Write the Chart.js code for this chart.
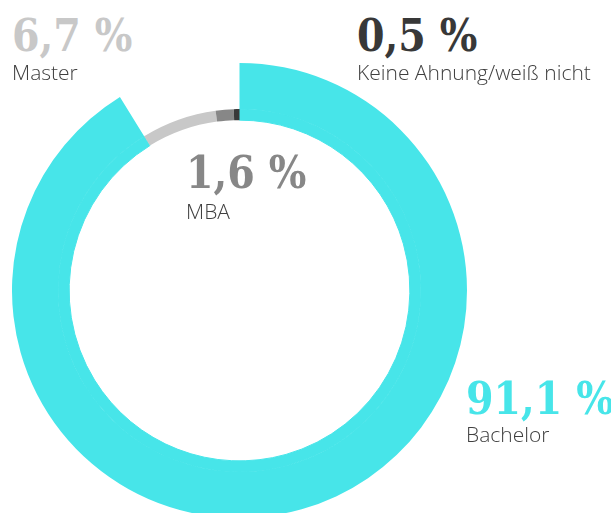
<!DOCTYPE html>
<html lang="de">
<head>
<meta charset="utf-8">
<script src="https://cdn.jsdelivr.net/npm/chart.js@4.4.1/dist/chart.umd.min.js"></script>
<style>
  html, body { margin: 0; padding: 0; width: 611px; height: 513px; overflow: hidden; background: #fff; }
  #wrap { position: absolute; left: 12px; top: 63px; width: 455px; height: 455px; }
  .val, .cat { position: absolute; white-space: nowrap; line-height: 1; }
  .val { font-family: "DejaVu Serif", serif; font-weight: bold; font-size: 44px; font-stretch: condensed; }
  .cat { font-family: "Open Sans", sans-serif; font-weight: 300; font-size: 21px; color: #404040; }
</style>
</head>
<body>
<div id="wrap"><canvas id="chart"></canvas></div>
<div id="labels"></div>
<script>
// survey answers, share in percent
const categories = ["Bachelor", "Master", "MBA", "Keine Ahnung/weiß nicht"];
const shares = [91.1, 6.7, 1.6, 0.5];

const colours = ["#47e5e9", "#c8c8c8", "#878787", "#383838"];
// label anchors: [left, value baseline, category baseline]
const labelPos = [[466, 413, 443], [12, 50, 81], [186, 187, 220], [357, 50, 81]];

const fmt = (v) => v.toFixed(1).replace(".", ",") + " %";

const ctx = document.getElementById("chart").getContext("2d");
new Chart(ctx, {
  type: "doughnut",
  data: {
    labels: categories,
    datasets: [
      {
        // thick outer band: only Bachelor is visible
        data: shares,
        backgroundColor: colours.map((c, i) => (i === 0 ? c : "rgba(0,0,0,0)")),
        borderWidth: 0,
        weight: 46,
      },
      {
        // thin inner band carries the small answers
        data: shares,
        backgroundColor: colours,
        borderColor: colours[0],
        borderWidth: [1, 0, 0, 0], // hides the seam between the two cyan bands
        weight: 11,
      },
    ],
  },
  options: {
    responsive: true,
    maintainAspectRatio: false,
    animation: false,
    cutout: (170 / 227) * 100 + "%",
    hoverOffset: 0,
    events: [],
    plugins: { legend: { display: false }, tooltip: { enabled: false } },
    layout: { padding: 0 },
  },
});

const box = document.getElementById("labels");
categories.forEach((cat, i) => {
  const [x, yv, yc] = labelPos[i];
  const v = document.createElement("div");
  v.className = "val";
  v.textContent = fmt(shares[i]);
  v.style.color = colours[i];
  v.style.left = x + "px";
  v.style.top = yv - 36 + "px";
  box.appendChild(v);
  const c = document.createElement("div");
  c.className = "cat";
  c.textContent = cat;
  c.style.left = x + "px";
  c.style.top = yc - 19 + "px";
  box.appendChild(c);
});
</script>
</body>
</html>
